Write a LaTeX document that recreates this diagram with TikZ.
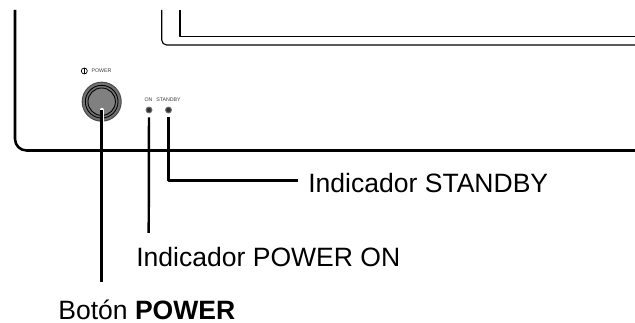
\documentclass[tikz,border=0pt]{standalone}
\usepackage{fontspec}
\setmainfont{Liberation Sans}
\tikzset{
	leader/.style={line width=1.4pt,line cap=butt},
	panel/.style={line width=1.45pt},
	frame/.style={line width=0.65pt},
	callout/.style={font=\fontsize{15.1pt}{18pt}\selectfont,inner sep=0pt,anchor=base west},
	tinytext/.style={font=\fontsize{3pt}{4pt}\selectfont,inner sep=0pt,text=black!75},
	led/.style={circle,fill=black!80,draw=black!55,line width=0.5pt,minimum size=3.4pt,inner sep=0pt}
}
\begin{document}
\begin{tikzpicture}[x=0.02cm,y=-0.02cm,line join=round]
	\useasboundingbox (0,0) rectangle (635,323);
	% panel and screen edges
	\draw[panel] (15,10)--(15,139) arc[start angle=180,end angle=90,radius=11.5]--(635,150.5);
	\draw[frame] (161.7,10)--(161.7,40) arc[start angle=180,end angle=90,radius=5]--(635,45);
	\draw[frame] (180,10)--(180,36.7)--(635,36.7);
	% button
	\node[circle,fill=black!55,draw=black!70,line width=0.6pt,minimum size=22.2pt,inner sep=0pt] (btnouter) at (101.7,101.7) {};
	\node[circle,draw=black,line width=0.5pt,minimum size=18.6pt,inner sep=0pt] (btnring) at (101.7,101.7) {};
	\node[circle,draw=black,fill=black!50,line width=0.5pt,minimum size=15.6pt,inner sep=0pt] (btn) at (101.7,101.7) {};
	\draw[line width=0.4pt] (84.3,71) circle(3);
	\draw[line width=0.5pt] (84.3,68)--(84.3,74);
	\node[tinytext] (powerlabel) at (101.5,71) {POWER};
	% indicators
	\node[led] (onled) at (149,110) {};
	\node[led] (standbyled) at (168.5,110) {};
	\node[tinytext] (onlabel) at (148.5,100) {ON};
	\node[tinytext] (standbylabel) at (168.5,100) {STANDBY};
	% callouts
	\node[callout] (standbytext) at (308,193) {Indicador STANDBY};
	\node[callout] (ontext) at (136,267) {Indicador POWER ON};
	\node[callout] (btntext) at (58,320) {Botón \textbf{POWER}};
	\coordinate (standbyend) at (298,180.7);
	\coordinate (onend) at (148.7,233);
	\coordinate (btnend) at (101.7,282);
	\coordinate (btntip) at (101.7,110);
	\draw[white,line width=2.4pt,line cap=round] (btntip)--(101.7,122);
	\draw[leader] (btntip)--(btnend);
	\draw[leader] (onled.south)++(0,4)--(onend);
	\draw[leader] (standbyled.south)++(0,4)|-(standbyend);
\end{tikzpicture}
\end{document}
